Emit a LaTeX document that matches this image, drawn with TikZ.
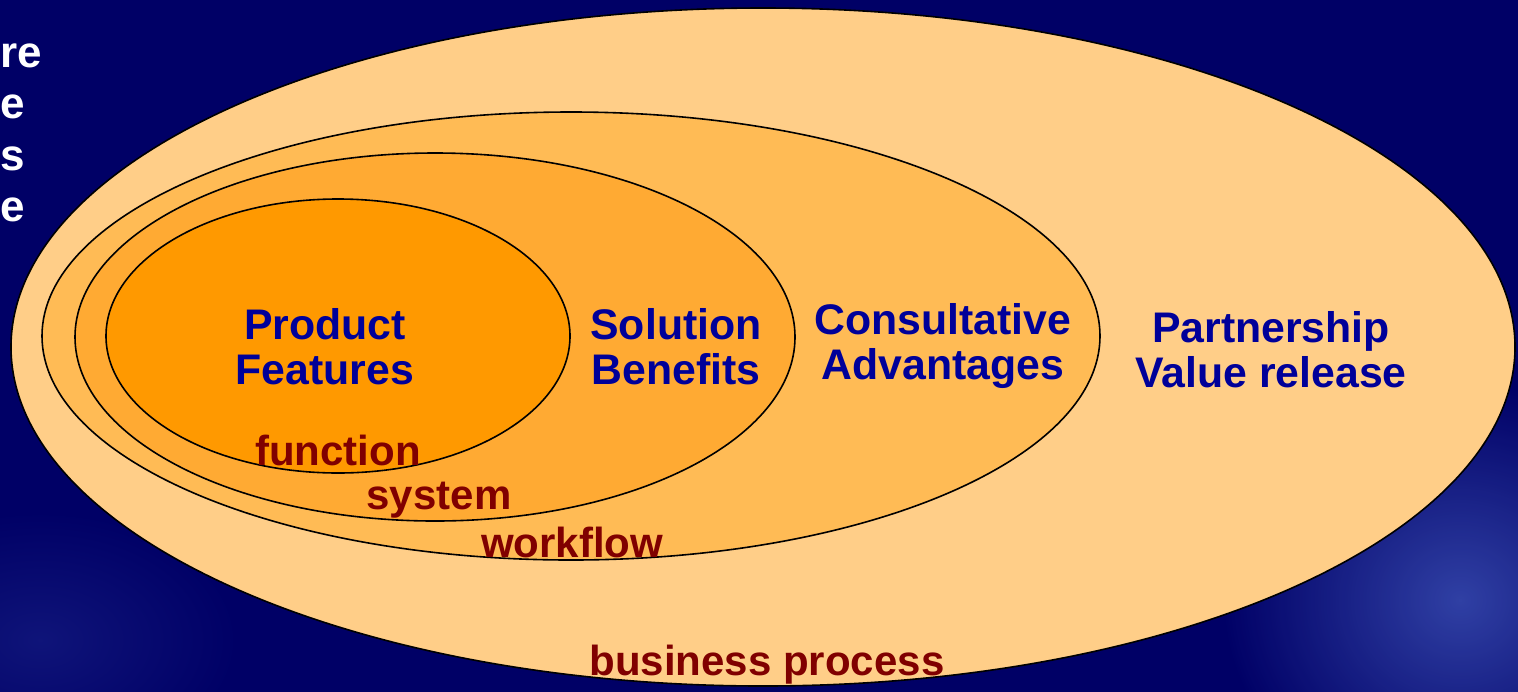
\documentclass[tikz,border=0pt]{standalone}
\usepackage{fontspec}
\setmainfont{Liberation Sans}
\usetikzlibrary{shapes,calc,positioning}
\definecolor{navy}{RGB}{0,0,102}
\definecolor{streak}{RGB}{60,80,180}
\definecolor{pbiz}{RGB}{255,206,136}
\definecolor{pflow}{RGB}{255,187,85}
\definecolor{psys}{RGB}{255,170,51}
\definecolor{pfun}{RGB}{255,153,0}
\definecolor{tblue}{RGB}{0,0,153}
\definecolor{tred}{RGB}{128,0,0}
\begin{document}
\begin{tikzpicture}[x=0.5pt,y=-0.5pt]
             \tikzstyle{ring} = [draw=black,line width=0.8pt]
             \tikzstyle{level} = [text=tblue,font=\bfseries\fontsize{21.4}{22.5}\selectfont,align=center,inner sep=0pt]
             \tikzstyle{scope label} = [text=tred,font=\bfseries\fontsize{21}{22.5}\selectfont,inner sep=0pt]
             \tikzstyle{cut} = [text=white,font=\bfseries\fontsize{22}{25.5}\selectfont,anchor=base west,inner sep=0pt]
		% Background
		\useasboundingbox (0,0) rectangle (1518,691);
		\fill[navy] (-10,-10) rectangle (1528,701);
		\begin{scope}
		\clip (-10,-10) rectangle (1528,701);
		\shade[inner color=streak,outer color=navy,opacity=0.8] (1460,600) ellipse [x radius=240, y radius=220];
		\shade[inner color=streak!50!navy,outer color=navy,opacity=0.5] (40,640) ellipse [x radius=200, y radius=130];
		\end{scope}
		% Cut-off text
		\node[cut] (cut1) at (0,67) {re};
		\node[cut] (cut2) at (0,118) {e};
		\node[cut] (cut3) at (0,170) {s};
		\node[cut] (cut4) at (0,221) {e};
		% Ellipses
		\path[ring,fill=pbiz] (763,347) ellipse [x radius=752, y radius=339];
		\path[ring,fill=pflow] (571,336) ellipse [x radius=529, y radius=224];
		\path[ring,fill=psys] (435,337) ellipse [x radius=360, y radius=184];
		\path[ring,fill=pfun] (338,336) ellipse [x radius=232, y radius=137];
		% Levels
		\node[level] (product) at (325,347) {Product\\Features};
		\node[level] (solution) at (676,347) {Solution\\Benefits};
		\node[level] (consult) at (943,346) {Consultative\\Advantages};
		\node[level] (partner) at (1271,350) {Partnership\\Value release};
		% Scopes
		\node[scope label] (function) at (338,450) {function};
		\node[scope label] (system) at (439,500) {system};
		\node[scope label] (workflow) at (572,542) {workflow};
		\node[scope label] (business) at (767,665) {business process};
		\end{tikzpicture}
\end{document}
